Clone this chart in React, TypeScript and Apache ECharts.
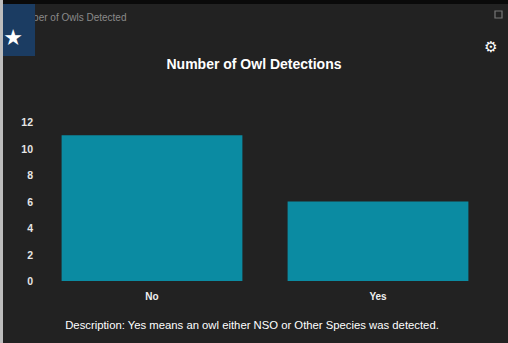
import React, { useEffect, useRef } from "react";
import * as echarts from "echarts";

const categories = ["No", "Yes"];
const detections = [11, 6];
const yTicks = [0, 2, 4, 6, 8, 10, 12];
const chartTitle = "Number of Owl Detections";
const panelTitle = "Number of Owls Detected";
const description = "Description: Yes means an owl either NSO or Other Species was detected.";

export default function App() {
  const ref = useRef<HTMLDivElement>(null);
  useEffect(() => {
    if (!ref.current) return;
    const chart = echarts.init(ref.current, null, { renderer: "svg" });
    const font = "Liberation Sans, Arial, sans-serif";
    chart.setOption({
      animation: false,
      backgroundColor: "#222222",
      textStyle: { fontFamily: font },
      title: {
        text: chartTitle,
        left: "center",
        top: 52,
        textStyle: { color: "#ffffff", fontSize: 14, fontWeight: "bold", fontFamily: font },
      },
      grid: { left: 39, right: 17, top: 122, bottom: 62 },
      xAxis: {
        type: "category",
        data: categories,
        axisLine: { show: false },
        axisTick: { show: false },
        axisLabel: { color: "#f0f0f0", fontSize: 10, fontWeight: "bold", margin: 10, fontFamily: font },
      },
      yAxis: {
        type: "value",
        min: yTicks[0],
        max: yTicks[yTicks.length - 1],
        interval: 2,
        splitLine: { show: false },
        axisLine: { show: false },
        axisTick: { show: false },
        axisLabel: { color: "#e6e6e6", fontSize: 10.5, fontWeight: "bold", margin: 6, fontFamily: font },
      },
      series: [
        {
          type: "bar",
          data: detections,
          barCategoryGap: "20%",
          itemStyle: { color: "#0b8ba2" },
        },
      ],
      graphic: [
        { type: "rect", shape: { x: 0, y: 0, width: 508, height: 4 }, style: { fill: "#0a0a0a" } },
        { type: "rect", shape: { x: 0, y: 0, width: 3, height: 343 }, style: { fill: "#bdbdbd" } },
        {
          type: "text",
          x: 12,
          y: 12,
          style: { text: panelTitle, fill: "#8a8a8a", fontSize: 10, fontFamily: font },
        },
        { type: "rect", shape: { x: 3, y: 4, width: 32, height: 52 }, style: { fill: "#1b3c62" } },
        {
          type: "text",
          x: 13,
          y: 37,
          style: { text: "★", fill: "#ffffff", fontSize: 22, fontFamily: "DejaVu Sans", align: "center", verticalAlign: "middle" },
        },
        { type: "rect", shape: { x: 495, y: 11, width: 7, height: 7 }, style: { fill: "none", stroke: "#777777", lineWidth: 1.2 } },
        {
          type: "text",
          x: 491,
          y: 47,
          style: { text: "⚙", fill: "#ffffff", fontSize: 15, fontFamily: "DejaVu Sans", align: "center", verticalAlign: "middle" },
        },
        {
          type: "text",
          x: 252,
          y: 325,
          style: { text: description, fill: "#ffffff", fontSize: 11.3, fontFamily: font, align: "center", verticalAlign: "middle" },
        },
      ],
    });
    return () => chart.dispose();
  }, []);
  return <div ref={ref} style={{ position: "fixed", left: 0, top: 0, width: 508, height: 343 }} />;
}
